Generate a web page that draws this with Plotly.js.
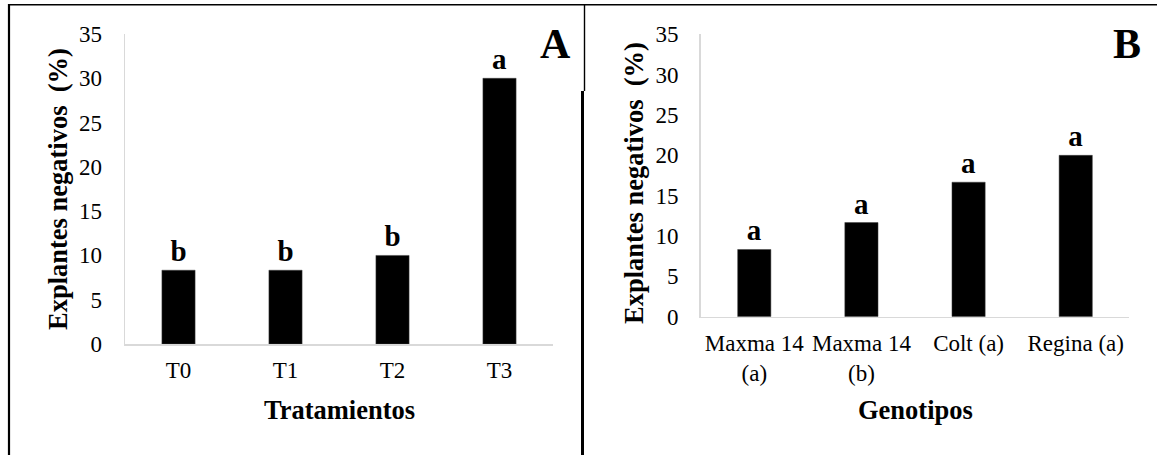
<!DOCTYPE html>
<html>
<head>
<meta charset="utf-8">
<script src="https://cdn.plot.ly/plotly-3.0.1.min.js"></script>
<style>html,body{margin:0;padding:0;background:#fff;}#chart{width:1157px;height:455px;}</style>
</head>
<body>
<div id="chart"></div>
<script>
// ---- Data ----
const categoriesA = ['T0', 'T1', 'T2', 'T3'];
const valuesA = [8.33, 8.33, 10, 30];
const lettersA = ['b', 'b', 'b', 'a'];

const categoriesB = ['Maxma 14<br>(a)', 'Maxma 14<br>(b)', 'Colt (a)', 'Regina (a)'];
const valuesB = [8.33, 11.67, 16.67, 20];
const lettersB = ['a', 'a', 'a', 'a'];

const yTickValues = [0, 5, 10, 15, 20, 25, 30, 35];
const yTitle = 'Explantes negativos \u00a0(%)';
const xTitleA = 'Tratamientos';
const xTitleB = 'Genotipos';
const panelLabels = ['A', 'B'];

// ---- Layout helpers ----
const W = 1157, H = 455;
const px = v => v / W;
const py = v => 1 - v / H;
const FONT = 'Liberation Serif';

const barStyle = {
  type: 'bar',
  marker: {color: '#000000', line: {color: '#404040', width: 0.5}},
  textposition: 'outside',
  cliponaxis: false,
  textfont: {family: FONT, size: 29, color: '#000'},
  hoverinfo: 'none'
};

const traces = [
  Object.assign({}, barStyle, {x: categoriesA, y: valuesA, text: lettersA.map(t => '<b>' + t + '</b>'), xaxis: 'x', yaxis: 'y'}),
  Object.assign({}, barStyle, {x: categoriesB, y: valuesB, text: lettersB.map(t => '<b>' + t + '</b>'), xaxis: 'x2', yaxis: 'y2'})
];

function xAxis(domain, anchor) {
  return {
    type: 'category', domain: domain, anchor: anchor,
    showline: true, linecolor: '#d9d9d9', linewidth: 1.5,
    showgrid: false, zeroline: false, ticks: '',
    tickfont: {family: FONT, size: 23, color: '#000'},
    ticklabelstandoff: 5,
    fixedrange: true
  };
}
function yAxis(domain, anchor, standoff) {
  return {
    range: [0, 35], tickvals: yTickValues, domain: domain, anchor: anchor,
    showline: true, linecolor: '#d9d9d9', linewidth: 1.5,
    showgrid: false, zeroline: false, ticks: '',
    tickfont: {family: FONT, size: 23, color: '#000'},
    ticklabelstandoff: standoff,
    fixedrange: true
  };
}

const layout = {
  width: W, height: H,
  font: {family: FONT, size: 23, color: '#000'},
  margin: {l: 0, r: 0, t: 0, b: 0},
  paper_bgcolor: '#fff', plot_bgcolor: 'rgba(0,0,0,0)',
  showlegend: false,
  bargap: 0.69,
  xaxis: xAxis([px(125), px(553)], 'y'),
  yaxis: yAxis([py(344), py(34)], 'x', 17),
  xaxis2: xAxis([px(700.7), px(1129.3)], 'y2'),
  yaxis2: yAxis([py(316.7), py(34.3)], 'x2', 16),
  annotations: [
    {text: '<b>' + yTitle + '</b>', xref: 'paper', yref: 'paper', x: px(58), y: py(189), textangle: -90, showarrow: false, xanchor: 'center', yanchor: 'middle', font: {family: FONT, size: 26.5, color: '#000'}},
    {text: '<b>' + yTitle + '</b>', xref: 'paper', yref: 'paper', x: px(634), y: py(183), textangle: -90, showarrow: false, xanchor: 'center', yanchor: 'middle', font: {family: FONT, size: 26.5, color: '#000'}},
    {text: '<b>' + xTitleA + '</b>', xref: 'paper', yref: 'paper', x: px(339), y: py(410), showarrow: false, xanchor: 'center', yanchor: 'middle', font: {family: FONT, size: 26.5, color: '#000'}},
    {text: '<b>' + xTitleB + '</b>', xref: 'paper', yref: 'paper', x: px(915), y: py(410), showarrow: false, xanchor: 'center', yanchor: 'middle', font: {family: FONT, size: 26.5, color: '#000'}},
    {text: '<b>' + panelLabels[0] + '</b>', xref: 'paper', yref: 'paper', x: px(555), y: py(44), showarrow: false, xanchor: 'center', yanchor: 'middle', font: {family: FONT, size: 42, color: '#000'}},
    {text: '<b>' + panelLabels[1] + '</b>', xref: 'paper', yref: 'paper', x: px(1127), y: py(44), showarrow: false, xanchor: 'center', yanchor: 'middle', font: {family: FONT, size: 42, color: '#000'}}
  ],
  shapes: [
    {type: 'line', xref: 'paper', yref: 'paper', x0: px(9), x1: px(9), y0: py(4), y1: 0, line: {color: '#000', width: 2.2}},
    {type: 'line', xref: 'paper', yref: 'paper', x0: px(8), x1: 1, y0: py(4.7), y1: py(4.7), line: {color: '#000', width: 1.6}},
    {type: 'line', xref: 'paper', yref: 'paper', x0: px(584.5), x1: px(584.5), y0: py(4), y1: py(91), line: {color: '#000', width: 1.4}},
    {type: 'line', xref: 'paper', yref: 'paper', x0: px(582.5), x1: px(582.5), y0: py(91), y1: 0, line: {color: '#000', width: 3}}
  ]
};

Plotly.newPlot('chart', traces, layout, {displayModeBar: false, staticPlot: true});
</script>
</body>
</html>
